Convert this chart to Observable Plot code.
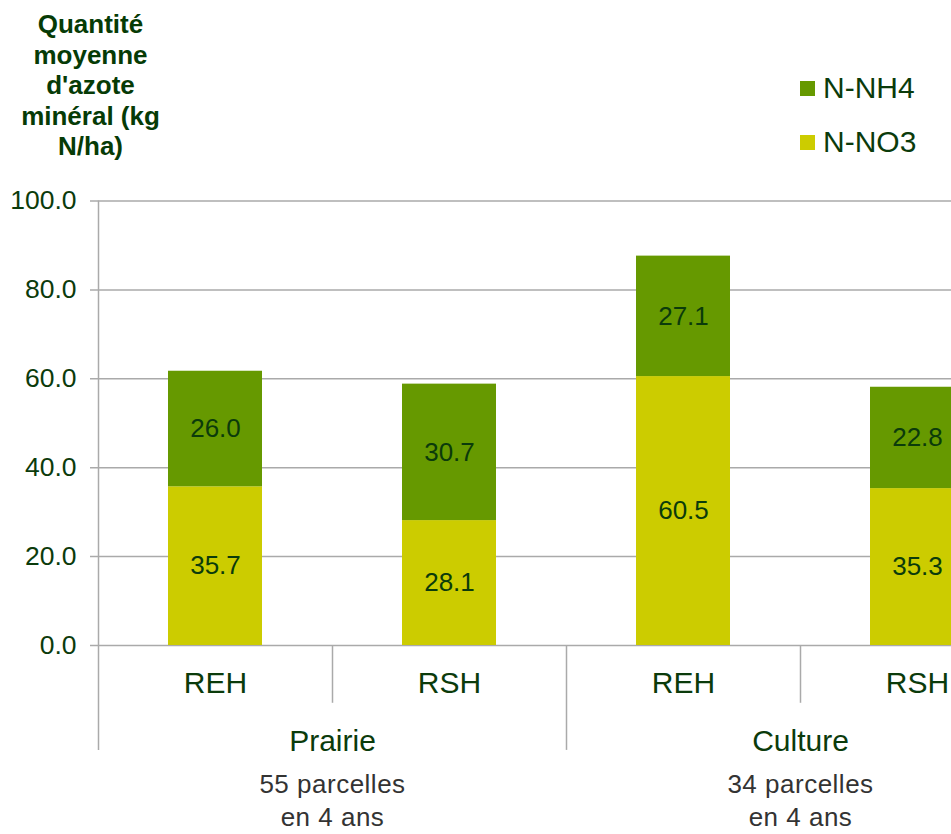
<!DOCTYPE html>
<html>
<head>
<meta charset="utf-8">
<script src="https://cdn.jsdelivr.net/npm/d3@7"></script>
<script src="https://cdn.jsdelivr.net/npm/@observablehq/plot@0.6"></script>
<style>
  html, body { margin: 0; padding: 0; background: #fff; overflow: hidden; width: 951px; height: 834px; }
  #wrap { position: relative; width: 951px; height: 834px; overflow: hidden; font-family: "Liberation Sans", Arial, sans-serif; }
  #title { position: absolute; left: 0; top: 9px; width: 181px; text-align: center; font-weight: bold; font-size: 26px; line-height: 30.5px; color: #063b06; }
  .leg { position: absolute; left: 800px; display: flex; align-items: center; font-size: 30px; color: #0b3b0b; height: 36px; }
  .leg span.sw { display: inline-block; width: 15px; height: 15px; margin-right: 8px; }
  #chart { position: absolute; left: 0; top: 0; }
  .notes text { letter-spacing: 0.5px; }
</style>
</head>
<body>
<div id="wrap">
  <div id="chart"></div>
  <div id="title"></div>
  <div id="legend"></div>
</div>
<script>
// ---- data ----
const groups = ["Prairie", "Prairie", "Culture", "Culture"];
const subs = ["REH", "RSH", "REH", "RSH"];
const no3 = [35.7, 28.1, 60.5, 35.3];
const nh4 = [26.0, 30.7, 27.1, 22.8];
const series = ["N-NO3", "N-NH4"];
const seriesColors = ["#cccc00", "#669900"];
const groupLabels = ["Prairie", "Culture"];
const groupNotes = ["55 parcelles\nen 4 ans", "34 parcelles\nen 4 ans"];
const yTicks = [0, 20, 40, 60, 80, 100];
const titleLines = ["Quantité", "moyenne", "d'azote", "minéral (kg", "N/ha)"];

// ---- derived table ----
const keys = groups.map((g, i) => g + "|" + subs[i]);
const rows = [];
keys.forEach((k, i) => {
  rows.push({key: k, series: series[0], value: no3[i], mid: no3[i] / 2});
  rows.push({key: k, series: series[1], value: nh4[i], mid: no3[i] + nh4[i] / 2});
});

// layout
const xRange = [98, 1034];
const padIn = 0.6, padOut = 0.3;
const step = (xRange[1] - xRange[0]) / (keys.length - padIn + 2 * padOut);
const half = step / 2;
const textColor = "#0b3b0b";

// separators: left boundary of each band
const seps = keys.map((k, i) => ({key: k, first: i === 0, groupStart: i === 0 || groups[i] !== groups[i - 1]}));
const groupStarts = keys.filter((k, i) => i % 2 === 0);

const chart = Plot.plot({
  width: 951,
  height: 834,
  marginLeft: 90,
  marginRight: 0,
  marginTop: 0,
  marginBottom: 0,
  style: {fontFamily: "'Liberation Sans', Arial, sans-serif", overflow: "hidden", background: "transparent"},
  x: {type: "band", domain: keys, range: xRange, paddingInner: padIn, paddingOuter: padOut, axis: null},
  y: {domain: [0, 100], range: [645, 200.5], axis: null},
  color: {domain: series, range: seriesColors},
  marks: [
    Plot.ruleY(yTicks, {y: d => d, stroke: "#aaaaaa", strokeWidth: 1.5}),
    Plot.barY(rows, Plot.stackY({x: "key", y: "value", fill: "series"})),
    Plot.ruleX(seps, {x: "key", dx: -half, y1: d => d.first ? 100 : 0, y2: d => d.groupStart ? -23.6 : -13, stroke: "#aaaaaa", strokeWidth: 1.5}),
    Plot.text(rows, {x: "key", y: "mid", text: d => d.value.toFixed(1), fill: textColor, fontSize: 26}),
    Plot.text(yTicks, {y: d => d, frameAnchor: "left", dx: -14, textAnchor: "end", text: d => d.toFixed(1), fill: textColor, fontSize: 26.5}),
    Plot.text(keys, {x: d => d, y: -8.5, text: (d, i) => subs[i], fill: textColor, fontSize: 30}),
    Plot.text(groupStarts, {x: d => d, dx: half, y: -21.6, text: (d, i) => groupLabels[i], fill: textColor, fontSize: 30}),
    Plot.text(groupStarts, {x: d => d, dx: half, y: -34.5, text: (d, i) => groupNotes[i], fill: "#333333", fontSize: 26, lineHeight: 1.28, className: "notes"})
  ]
});
document.getElementById("chart").appendChild(chart);

document.getElementById("title").innerHTML = titleLines.join("<br>");
const legend = document.getElementById("legend");
const legOrder = [1, 0];
const legTops = [70, 124];
legOrder.forEach((si, j) => {
  const d = document.createElement("div");
  d.className = "leg";
  d.style.top = legTops[j] + "px";
  d.innerHTML = `<span class="sw" style="background:${seriesColors[si]}"></span>${series[si]}`;
  legend.appendChild(d);
});
</script>
</body>
</html>
